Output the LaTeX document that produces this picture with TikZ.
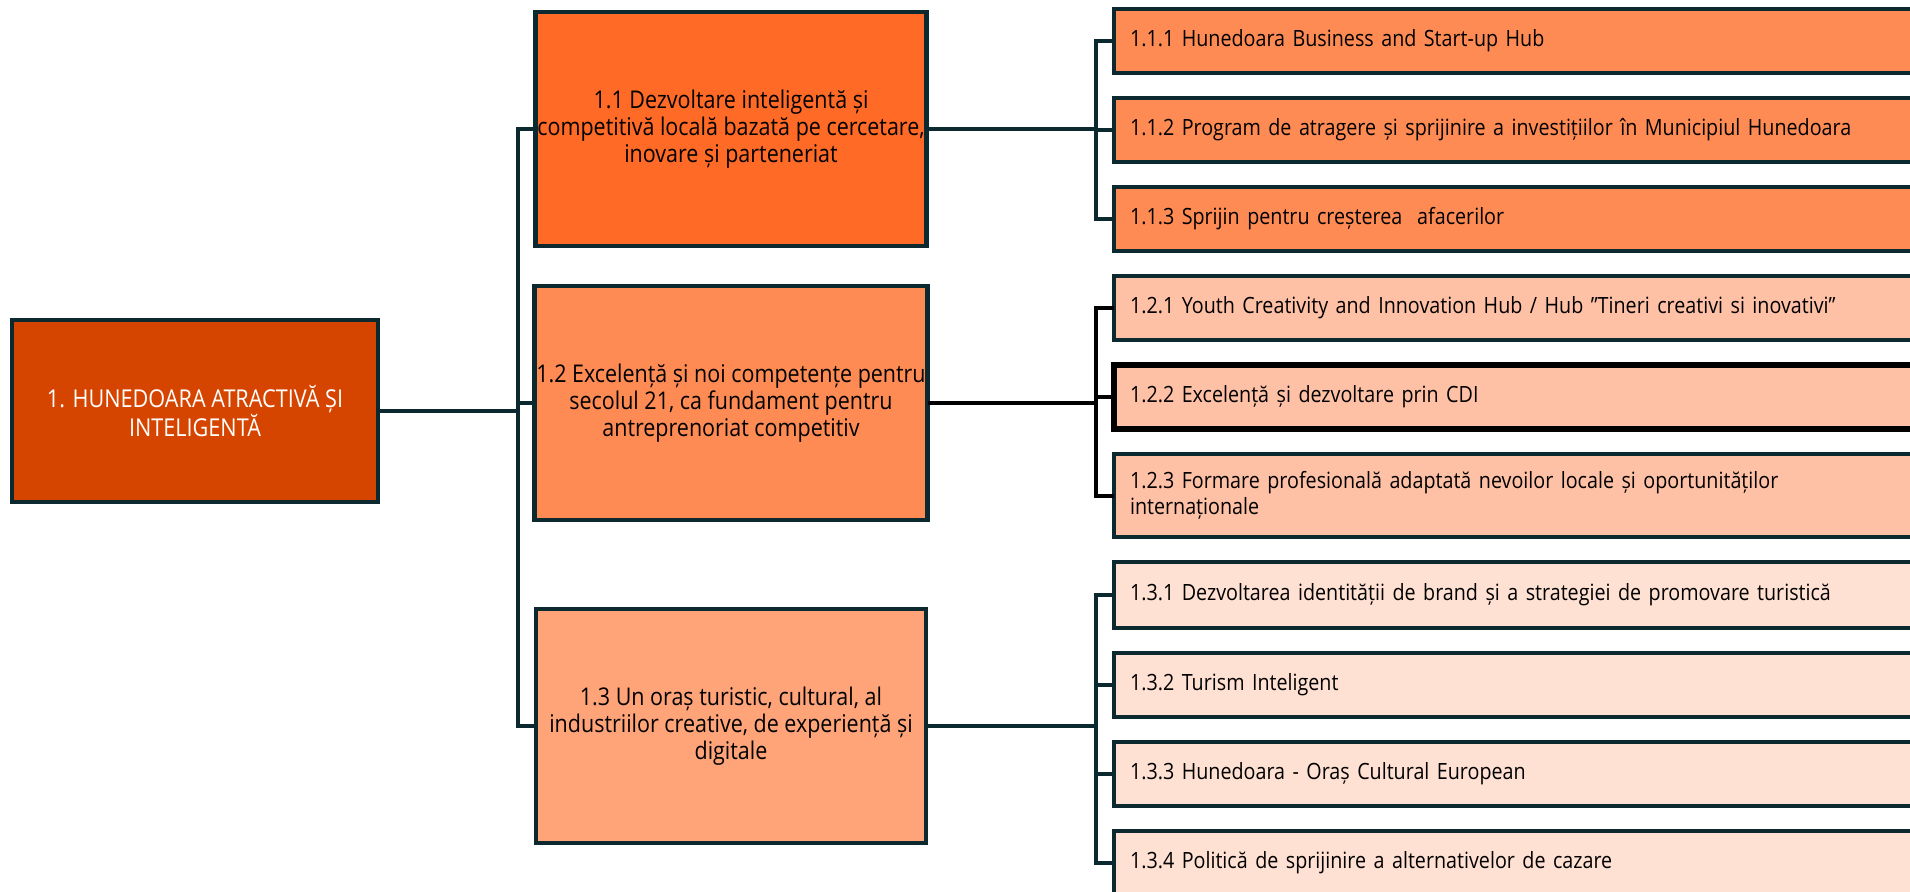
\documentclass[tikz,border=0pt]{standalone}
\usepackage{fontspec}
\setmainfont{Open Sans}[FakeStretch=0.88]
\usetikzlibrary{positioning}
\definecolor{edge}{RGB}{11,41,46}
\definecolor{rootc}{RGB}{214,69,0}
\definecolor{goalA}{RGB}{255,106,38}
\definecolor{goalB}{RGB}{255,139,84}
\definecolor{goalC}{RGB}{255,164,121}
\definecolor{leafB}{RGB}{255,193,166}
\definecolor{leafC}{RGB}{255,225,211}

\begin{document}
\begin{tikzpicture}[x=0.5pt,y=-0.5pt,node distance=12.5pt,
  box/.style={draw=edge,line width=2.3pt,inner sep=1pt,outer sep=0pt},
  goal/.style={box,align=center,minimum width=195pt,minimum height=117pt,font=\fontsize{12.2}{13.4}\selectfont},
  leaf/.style={box,align=left,text width=394pt,inner xsep=8pt,minimum height=32pt,font=\fontsize{11.2}{12.8}\selectfont},
  link/.style={draw=edge,line width=2pt}]
\useasboundingbox (0,0) rectangle (1910,891);
\coordinate (trunk) at (518,0);
\coordinate (branch) at (1096,0);

\node[box,fill=rootc,text=white,align=center,minimum width=183pt,minimum height=91pt,font=\fontsize{12.3}{14.6}\selectfont] (root) at (195,411) {1. HUNEDOARA ATRACTIVĂ ȘI\\INTELIGENTĂ};

\node[goal,fill=goalA] (s11) at (731,129) {1.1 Dezvoltare inteligentă și\\competitivă locală bazată pe cercetare,\\inovare și parteneriat};
\node[goal,fill=goalB] (s12) at (731,403) {1.2 Excelență și noi competențe pentru\\secolul 21, ca fundament pentru\\antreprenoriat competitiv};
\node[goal,fill=goalC] (s13) at (731,726) {1.3 Un oraș turistic, cultural, al\\industriilor creative, de experiență și\\digitale};

% actions
\node[leaf,fill=goalB,anchor=north west] (c111) at (1114,9) {1.1.1 Hunedoara Business and Start-up Hub};
\node[leaf,fill=goalB,below=of c111] (c112) {1.1.2 Program de atragere și sprijinire a investițiilor în Municipiul Hunedoara};
\node[leaf,fill=goalB,below=of c112] (c113) {1.1.3 Sprijin pentru creșterea\ \ afacerilor};
\node[leaf,fill=leafB,below=of c113] (c121) {1.2.1 Youth Creativity and Innovation Hub / Hub ”Tineri creativi si inovativi”};
\node[leaf,fill=leafB,draw=black,line width=2.8pt,below=of c121] (c122) {1.2.2 Excelență și dezvoltare prin CDI};
\node[leaf,fill=leafB,minimum height=41.5pt,below=of c122] (c123) {1.2.3 Formare profesională adaptată nevoilor locale și oportunităților\\internaționale};
\node[leaf,fill=leafC,minimum height=33pt,below=of c123] (c131) {1.3.1 Dezvoltarea identității de brand și a strategiei de promovare turistică};
\node[leaf,fill=leafC,below=of c131] (c132) {1.3.2 Turism Inteligent};
\node[leaf,fill=leafC,below=of c132] (c133) {1.3.3 Hunedoara - Oraș Cultural European};
\node[leaf,fill=leafC,below=of c133] (c134) {1.3.4 Politică de sprijinire a alternativelor de cazare};

% root to goals
\draw[link] (root.east) -- (root.east -| trunk);
\draw[link] (s11.west) -- (s11.west -| trunk) -- (s13.west -| trunk) -- (s13.west);
\draw[link] (s12.west -| trunk) -- (s12.west);

% goals to actions
\draw[link] (s11.east) -- (s11.east -| branch);
\draw[link] (c111.west) -- (c111.west -| branch) -- (c113.west -| branch) -- (c113.west);
\draw[link] (c112.west -| branch) -- (c112.west);
\draw[link,draw=black] (s12.east) -- (s12.east -| branch);
\draw[link,draw=black] (c121.west) -- (c121.west -| branch) -- (c123.west -| branch) -- (c123.west);
\draw[link,draw=black] (c122.west -| branch) -- (c122.west);
\draw[link] (s13.east) -- (s13.east -| branch);
\draw[link] (c131.west) -- (c131.west -| branch) -- (c134.west -| branch) -- (c134.west);
\foreach \n in {c132,c133}
  \draw[link] (\n.west -| branch) -- (\n.west);
\end{tikzpicture}
\end{document}
